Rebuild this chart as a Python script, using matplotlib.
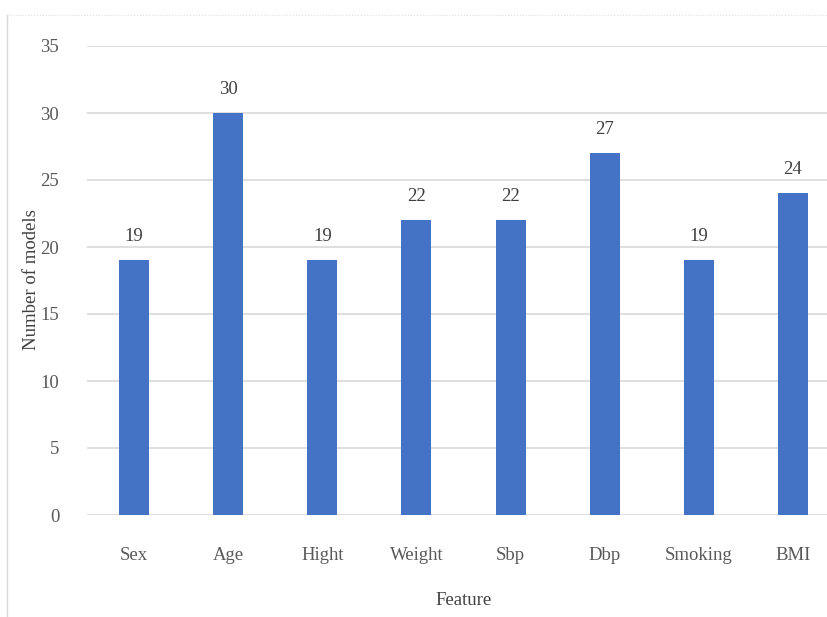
import matplotlib
matplotlib.use('Agg')
import matplotlib.pyplot as plt
from matplotlib.lines import Line2D

features = ['Sex', 'Age', 'Hight', 'Weight', 'Sbp', 'Dbp', 'Smoking', 'BMI']
num_models = [19, 30, 19, 22, 22, 27, 19, 24]
yticks = [0, 5, 10, 15, 20, 25, 30, 35]

plt.rcParams['font.family'] = ['Liberation Serif', 'DejaVu Serif']

fig = plt.figure(figsize=(8.27, 6.17), dpi=100)
W, H = 827, 617

# axes spans a bit past the right edge, like a cropped Excel chart
ax = fig.add_axes([87 / W, 102 / H, 753 / W, 469 / H])

x = list(range(len(features)))
ax.bar(x, num_models, width=0.32, color='#4472C4', zorder=3)

for xi, v in zip(x, num_models):
    ax.annotate(str(v), (xi, v), xytext=(0, 11), textcoords='offset points',
                ha='center', va='bottom', fontsize=13.5, color='#404040')

ax.set_xlim(-0.5, len(features) - 0.5)
ax.set_ylim(0, 35)
ax.set_yticks(yticks)
ax.set_xticks(x)
ax.set_xticklabels(features)
ax.grid(axis='y', color='#D9D9D9', linewidth=1.2, zorder=0)
ax.tick_params(axis='both', length=0, labelsize=13.5, labelcolor='#595959')
ax.tick_params(axis='y', pad=20)
ax.tick_params(axis='x', pad=23)
for s in ax.spines.values():
    s.set_visible(False)

ax.set_xlabel('Feature', fontsize=13.5, color='#404040', labelpad=20)
fig.text(31 / W, 1 - 280 / H, 'Number of models', rotation=90, ha='center',
         va='center', fontsize=13.5, color='#404040')

# chart frame (left and top edges)
fig.add_artist(Line2D([7 / W, 7 / W], [0, 1 - 15 / H], transform=fig.transFigure,
                      color='#D9D9D9', linewidth=1))
fig.add_artist(Line2D([7 / W, 1], [1 - 15 / H, 1 - 15 / H], transform=fig.transFigure,
                      color='#E0E0E0', linewidth=0.8, linestyle=':'))

fig.savefig('out.png', dpi=100)
